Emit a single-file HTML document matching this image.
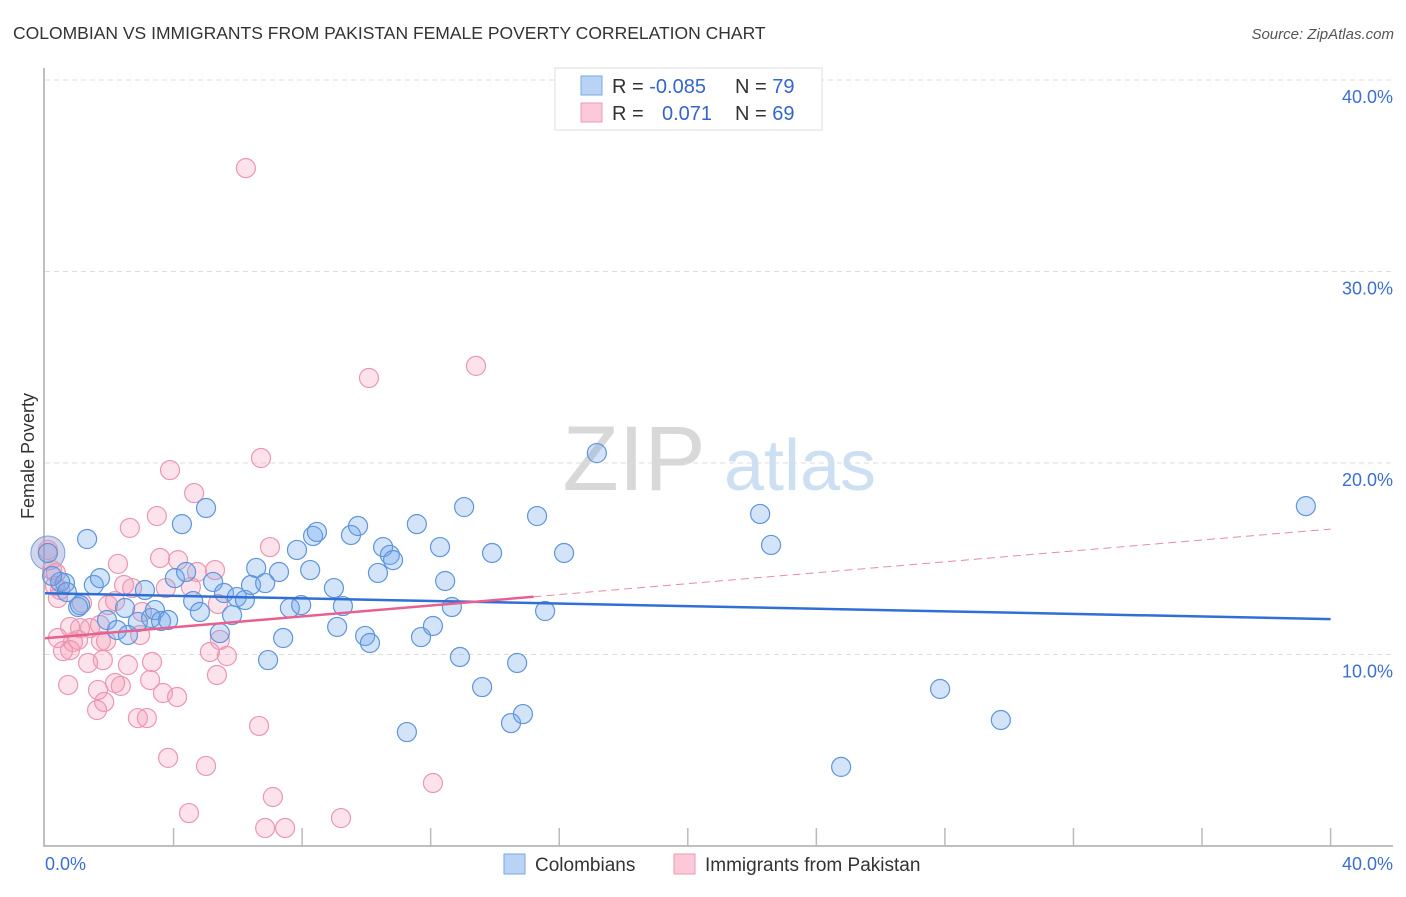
<!DOCTYPE html>
<html><head><meta charset="utf-8">
<style>
body{margin:0;background:#fff;font-family:"Liberation Sans",sans-serif;}
svg text{font-family:"Liberation Sans",sans-serif;}
</style></head>
<body>
<svg id="chart" width="1406" height="892" xmlns="http://www.w3.org/2000/svg">
<text x="13" y="39" font-size="17.5" fill="#333">COLOMBIAN VS IMMIGRANTS FROM PAKISTAN FEMALE POVERTY CORRELATION CHART</text>
<text x="1394" y="39" font-size="15" fill="#555" font-style="italic" text-anchor="end">Source: ZipAtlas.com</text>
<text x="0" y="0" transform="translate(34,456) rotate(-90)" font-size="18" fill="#333" text-anchor="middle">Female Poverty</text>
<g>
<text x="634" y="490" font-size="92" fill="#d8d8d8" font-family="Liberation Serif,serif" text-anchor="middle">ZIP</text>
<text x="800" y="490" font-size="72" fill="#cddff3" text-anchor="middle">atlas</text>
</g>
<g id="grid"></g>
<g id="axes"></g>
<g id="marks"></g>
<g>
<rect x="555" y="68" width="267" height="62" fill="#fff" stroke="#ddd"/>
<rect x="581" y="76" width="21" height="19" fill="#b9d3f5" stroke="#7aa6e6"/>
<rect x="581" y="103" width="21" height="19" fill="#fbc9d8" stroke="#ee9ab5"/>
<text x="612" y="93" font-size="20" fill="#333">R = <tspan fill="#3366cc">-0.085</tspan></text>
<text x="735" y="93" font-size="20" fill="#333">N = <tspan fill="#3366cc">79</tspan></text>
<text x="612" y="120" font-size="20" fill="#333">R = </text>
<text x="662" y="120" font-size="20" fill="#3366cc">0.071</text>
<text x="735" y="120" font-size="20" fill="#333">N = <tspan fill="#3366cc">69</tspan></text>
</g>
<g>
<rect x="504" y="854" width="21" height="20" fill="#b9d3f5" stroke="#7aa6e6"/>
<text x="535" y="871" font-size="19" fill="#333">Colombians</text>
<rect x="674" y="854" width="21" height="20" fill="#fbc9d8" stroke="#ee9ab5"/>
<text x="705" y="871" font-size="19" fill="#333">Immigrants from Pakistan</text>
</g>
</svg>
<script>
const blueX=[1.31,1.52,1.71,1.03,1.09,0.62,0.47,0.68,1.93,2.24,2.49,2.58,2.89,3.11,3.30,3.42,3.61,3.83,4.04,4.26,4.39,4.61,4.82,5.01,5.23,5.44,5.57,5.82,5.97,6.22,6.41,6.57,6.85,6.94,7.28,7.41,7.62,7.84,7.97,8.25,8.34,8.46,8.99,9.09,9.27,9.52,9.74,9.96,10.11,10.36,10.52,10.73,10.83,11.26,11.57,11.70,12.07,12.29,12.45,12.66,12.91,13.04,13.60,13.91,14.50,14.69,14.87,15.31,15.56,16.15,17.17,22.25,22.59,24.77,27.85,29.74,39.23,0.09,0.22];
const blueY=[16.03,13.63,13.99,12.48,12.58,13.73,13.79,13.26,11.80,11.28,12.43,11.02,11.70,13.37,11.91,12.32,11.75,11.80,13.99,16.81,14.31,12.79,12.22,17.65,13.79,11.12,13.21,12.06,13.00,12.85,13.63,14.52,13.73,9.71,14.31,10.86,12.43,15.46,12.58,14.41,16.19,16.40,13.47,11.44,12.53,16.24,16.71,10.97,10.60,14.26,15.61,15.20,14.93,5.95,16.81,10.91,11.49,15.61,13.84,12.48,9.87,17.70,8.30,15.30,6.42,9.56,6.89,17.23,12.27,15.30,20.52,17.34,15.72,4.13,8.20,6.58,17.75,15.30,14.10];
const pinkX=[6.25,10.08,13.41,6.72,3.89,4.64,2.64,3.48,7.00,3.58,4.14,4.73,2.27,2.71,2.46,3.02,3.76,4.54,1.96,1.15,1.09,0.78,1.71,1.03,0.87,1.90,2.96,1.34,1.80,0.40,0.56,3.33,2.58,1.65,2.36,2.18,3.27,4.11,3.67,0.72,1.62,1.84,2.89,3.17,5.38,5.44,5.13,5.66,5.35,3.83,5.01,6.66,7.09,4.48,6.85,7.47,9.21,12.07,0.31,0.40,0.22,0.47,0.09,2.18,0.34,1.74,0.78,1.40,5.29];
const pinkY=[35.40,24.44,25.07,20.26,19.63,18.43,16.61,17.23,15.61,15.04,14.93,14.31,14.73,13.47,13.63,12.22,13.47,13.52,12.58,12.69,11.38,11.44,11.54,10.76,10.65,10.70,11.02,9.56,9.71,10.86,10.18,9.61,9.45,8.15,8.36,8.51,8.67,7.78,7.99,8.41,7.10,7.52,6.68,6.68,12.64,10.76,10.13,9.92,8.93,4.60,4.18,6.27,2.56,1.72,0.94,0.94,1.46,3.29,13.58,12.95,14.41,13.37,15.46,12.79,14.26,10.70,10.23,11.38,14.41];
const yTicks=[10,20,30,40];
const yTickLabels=["10.0%","20.0%","30.0%","40.0%"];
const xTicks=[0,4,8,12,16,20,24,28,32,36,40];
const xLabels=["0.0%","40.0%"];
const blueTrend=[13.2,11.85];
const pinkTrend=[10.85,16.55];
const pinkSolidEnd=15.2;

const NS="http://www.w3.org/2000/svg";
const sx=v=>45+v*32.14;
const sy=v=>846-v*19.15;
function mk(tag,attrs,parent){const e=document.createElementNS(NS,tag);for(const k in attrs)e.setAttribute(k,attrs[k]);parent.appendChild(e);return e;}
const grid=document.getElementById('grid'),axes=document.getElementById('axes'),marks=document.getElementById('marks');
yTicks.forEach((t,i)=>{
  const l=mk('line',{x1:45,x2:1393,y1:sy(t),y2:sy(t),stroke:'#ddd','stroke-dasharray':'5,4'},grid);
  
  
  const tx=mk('text',{x:1393,y:sy(t)+23,'font-size':18,fill:'#3b6fd4','text-anchor':'end'},axes);
  tx.textContent=yTickLabels[i];
  
  
});
const ax=mk('path',{d:`M44,68 V846 H1393`,fill:'none',stroke:'#aaa','stroke-width':1.5},axes);


xTicks.forEach(t=>{
  if(t===0)return;
  const l=mk('line',{x1:sx(t),x2:sx(t),y1:828,y2:846,stroke:'#bbb','stroke-width':1.5},axes);
  
  
});
const xl0=mk('text',{x:45,y:870,'font-size':18,fill:'#3b6fd4'},axes);xl0.textContent=xLabels[0];


const xl1=mk('text',{x:1393,y:870,'font-size':18,fill:'#3b6fd4','text-anchor':'end'},axes);xl1.textContent=xLabels[1];



// big points near origin
const bb=mk('circle',{cx:sx(blueX[77]),cy:sy(blueY[77]),r:17,fill:'rgba(120,140,200,0.35)',stroke:'#7aa0e0'},marks);


pinkX.forEach((x,i)=>{
  const c=mk('circle',{cx:sx(x),cy:sy(pinkY[i]),r:9.5,fill:'rgba(244,150,180,0.28)',stroke:'#eb97b2','stroke-width':1.2},marks);
  
  
});
blueX.forEach((x,i)=>{
  const c=mk('circle',{cx:sx(x),cy:sy(blueY[i]),r:9.5,fill:'rgba(110,165,235,0.3)',stroke:'#5e95dc','stroke-width':1.2},marks);
  
  
});
const bl=mk('line',{x1:sx(0),y1:sy(blueTrend[0]),x2:sx(40),y2:sy(blueTrend[1]),stroke:'#2f6fd6','stroke-width':2.5},marks);


const pAt=x=>pinkTrend[0]+(pinkTrend[1]-pinkTrend[0])*x/40;
const pl=mk('line',{x1:sx(0),y1:sy(pAt(0)),x2:sx(pinkSolidEnd),y2:sy(pAt(pinkSolidEnd)),stroke:'#e8608e','stroke-width':2.5},marks);


const pd=mk('line',{x1:sx(pinkSolidEnd),y1:sy(pAt(pinkSolidEnd)),x2:sx(40),y2:sy(pAt(40)),stroke:'#e88aa8','stroke-width':1,'stroke-dasharray':'8,5'},marks);


</script>
</body></html>
